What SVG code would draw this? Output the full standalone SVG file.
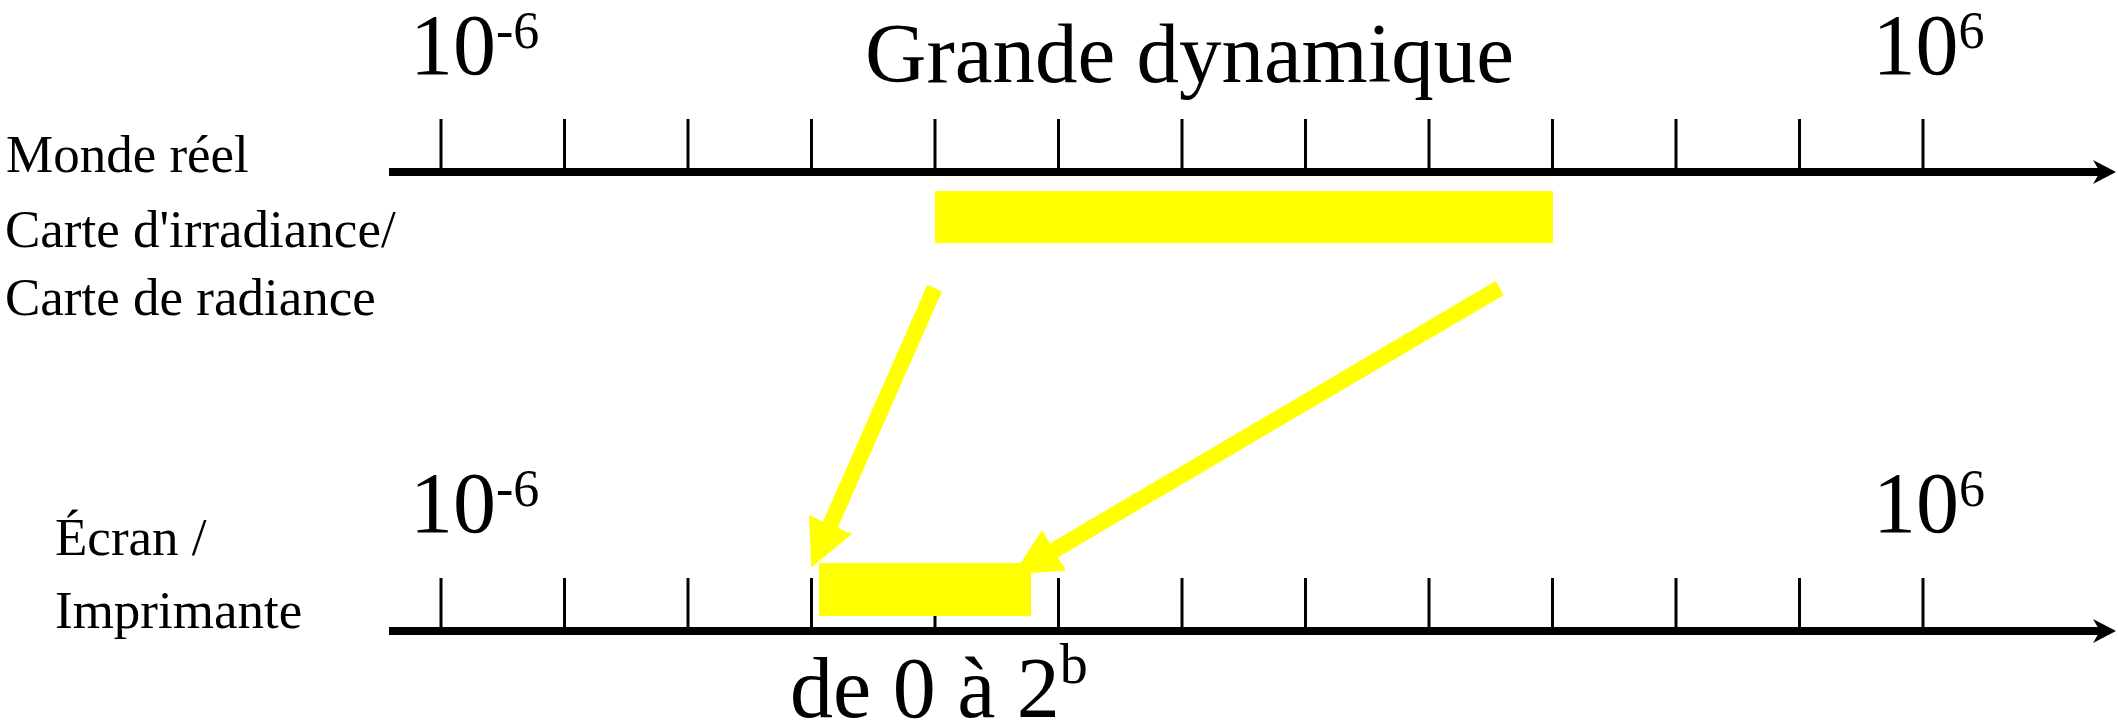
<svg xmlns="http://www.w3.org/2000/svg" width="2118" height="725" viewBox="0 0 2118 725">
<style>
text{font-family:"Liberation Serif","Times New Roman",serif;fill:#000}
.big{font-size:86px}
.lbl{font-size:53px}
.sup{font-size:52px}
.axis{stroke:#000;stroke-width:8;fill:none}
.tick{stroke:#000;stroke-width:3}
.bar{fill:#ffff00}
.yarrow{stroke:#ffff00;stroke-width:16;fill:none}
</style>
<defs>
<marker id="yhead" markerUnits="userSpaceOnUse" viewBox="0 0 47 47" markerWidth="47" markerHeight="47" refX="2" refY="23.5" orient="auto">
<path d="M0,0 L47,23.5 L0,47 z" fill="#ffff00"/>
</marker>
</defs>
<g id="axis-top">
<line class="axis" x1="389" y1="172" x2="2100" y2="172"/>
<path d="M2093,160 L2116,172 L2093,184 L2100,172 z" fill="#000"/>
<path class="tick" d="M441,119V172M564.5,119V172M688,119V172M811.5,119V172M935,119V172M1058.5,119V172M1182,119V172M1305.5,119V172M1429,119V172M1552.5,119V172M1676,119V172M1799.5,119V172M1923,119V172"/>
</g>
<g id="axis-bottom">
<line class="axis" x1="389" y1="631" x2="2100" y2="631"/>
<path d="M2093,619 L2116,631 L2093,643 L2100,631 z" fill="#000"/>
<path class="tick" d="M441,578V631M564.5,578V631M688,578V631M811.5,578V631M935,578V631M1058.5,578V631M1182,578V631M1305.5,578V631M1429,578V631M1552.5,578V631M1676,578V631M1799.5,578V631M1923,578V631"/>
</g>
<g id="bar-top"><rect class="bar" x="935" y="191" width="618" height="52"/></g>
<g id="bar-bottom"><rect class="bar" x="819" y="563" width="212" height="53"/></g>
<g id="connectors">
<line class="yarrow" x1="934.6" y1="288.3" x2="829.6" y2="526.3" marker-end="url(#yhead)"/>
<line class="yarrow" x1="1499.7" y1="288" x2="1052.3" y2="551.3" marker-end="url(#yhead)"/>
</g>
<g id="labels-top">
<text class="big" x="410" y="74">10<tspan class="sup" dy="-26">-6</tspan></text>
<text class="big" x="865" y="82" style="font-size:85px">Grande dynamique</text>
<text class="big" x="1872.5" y="74">10<tspan class="sup" dy="-26">6</tspan></text>
<text class="lbl" x="6" y="172">Monde réel</text>
<text class="lbl" x="5" y="247">Carte d'irradiance/</text>
<text class="lbl" x="5" y="315">Carte de radiance</text>
</g>
<g id="labels-bottom">
<text class="big" x="410" y="532">10<tspan class="sup" dy="-26">-6</tspan></text>
<text class="big" x="1873" y="532">10<tspan class="sup" dy="-26">6</tspan></text>
<text class="lbl" x="55" y="555">Écran /</text>
<text class="lbl" x="55" y="628">Imprimante</text>
<text class="big" x="790" y="717">de 0 à 2<tspan class="sup" dy="-34" style="font-size:56px">b</tspan></text>
</g>
</svg>
